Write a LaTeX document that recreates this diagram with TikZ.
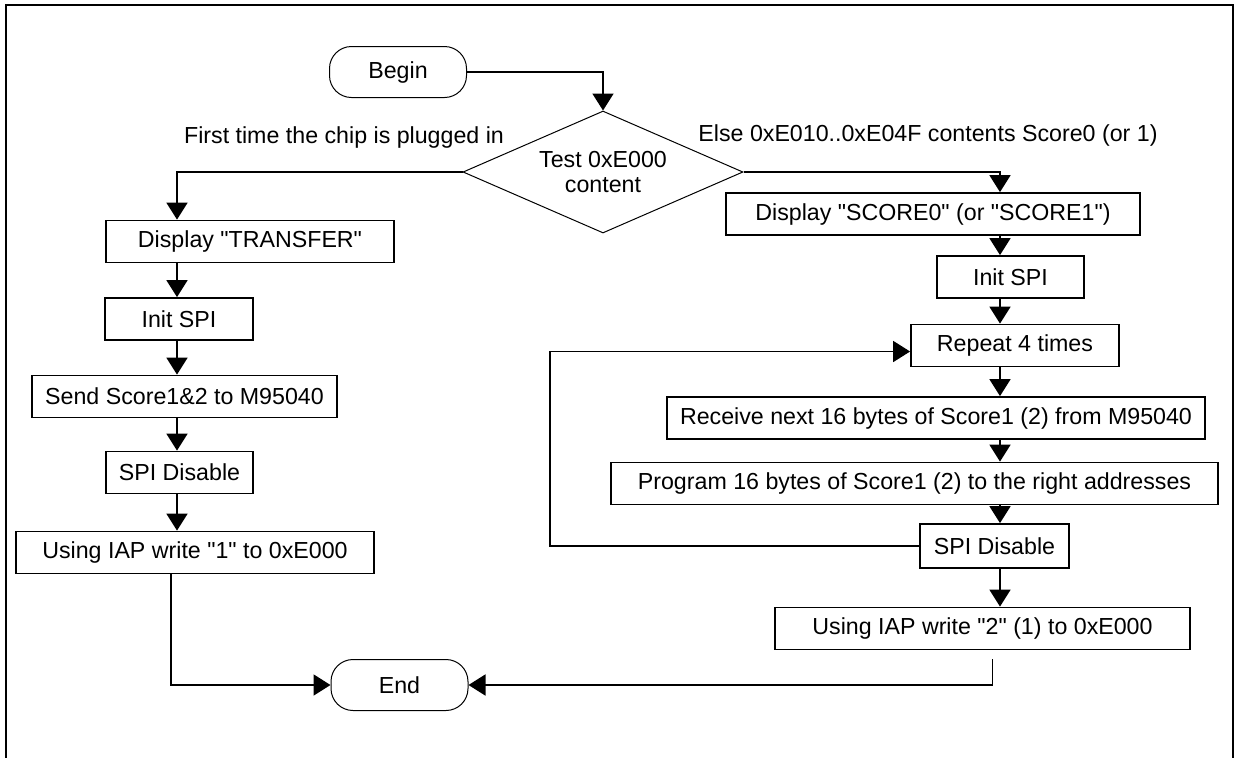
\documentclass[tikz,border=0pt]{standalone}
\usepackage{fontspec}
\setmainfont{Liberation Sans}
\usetikzlibrary{shapes.geometric,arrows.meta}

\begin{document}
\begin{tikzpicture}[
        x = .5pt, y = -.5pt,
        font = \fontsize{11.6}{12.5}\selectfont,
        box/.style = {draw, line width=.9pt, inner sep=0pt, minimum height=21pt},
        term/.style = {draw, line width=.5pt, rounded corners=11pt, inner sep=0pt,
            minimum width=68.5pt, minimum height=25.5pt},
        test/.style = {draw, diamond, line width=.5pt, aspect=2.3, inner sep=0pt,
            minimum width=140pt, minimum height=61pt, align=center},
        arr/.style = {line width=.9pt, -{Triangle[length=8.5pt,width=10.5pt]}}
    ]
        \useasboundingbox (0,0) rectangle (1239,757);
        \draw[line width=1.2pt] (6,765) -- (6,5) -- (1233,5) -- (1233,765);

        % start and decision
        \node[term] (begin) at (398,72) {Begin};
        \node[test] (test) at (603,172) {Test 0xE000\\content};
        \node (lblfirst) at (344,137) {First time the chip is plugged in};
        \node (lblelse) at (928,135) {Else 0xE010..0xE04F contents Score0 (or 1)};

        % left branch
        \node[box, minimum width=144pt] (tl1) at (250,241.5)
            {Display \textquotedbl TRANSFER\textquotedbl};
        \node[box, minimum width=74pt] (tl2) at (179,319) {Init SPI};
        \node[box, minimum width=152.5pt] (tl3) at (184.5,396.5) {Send Score1\&2 to M95040};
        \node[box, minimum width=73.5pt] (tl4) at (179.5,472.5) {SPI Disable};
        \node[box, minimum width=179pt] (tl5) at (195,552.5)
            {Using IAP write \textquotedbl 1\textquotedbl{} to 0xE000};

        % right branch
        \node[box, minimum width=207pt] (tr1) at (933,214)
            {Display \textquotedbl SCORE0\textquotedbl{} (or \textquotedbl SCORE1\textquotedbl)};
        \node[box, minimum width=73.5pt] (tr2) at (1010.5,277) {Init SPI};
        \node[box, minimum width=104pt] (tr3) at (1015,345.5) {Repeat 4 times};
        \node[box, minimum width=269pt] (tr4) at (936,418) {Receive next 16 bytes of Score1 (2) from M95040};
        \node[box, minimum width=303.5pt] (tr5) at (914.5,483.5) {Program 16 bytes of Score1 (2) to the right addresses};
        \node[box, minimum width=74.5pt, minimum height=22pt] (tr6) at (994.5,546) {SPI Disable};
        \node[box, minimum width=207.5pt] (tr7) at (982.5,628.5)
            {Using IAP write \textquotedbl 2\textquotedbl{} (1) to 0xE000};

        \node[term] (end) at (399.5,685) {End};

        \coordinate (lc) at (177,0);
        \coordinate (rc) at (1000,0);
        \coordinate (lp) at (550,450);

        \draw[arr] (begin.east) -| (test.north);
        \draw[arr] (test.west) -| (tl1.north -| lc);
        \draw[arr] (tl1.south -| lc) -- (tl2.north -| lc);
        \draw[arr] (tl2.south -| lc) -- (tl3.north -| lc);
        \draw[arr] (tl3.south -| lc) -- (tl4.north -| lc);
        \draw[arr] (tl4.south -| lc) -- (tl5.north -| lc);
        \draw[arr] ([xshift=-12pt]tl5.south) |- (end.west);

        \draw[arr] (test.east) -| (tr1.north -| rc);
        \draw[arr] (tr1.south -| rc) -- (tr2.north -| rc);
        \draw[arr] (tr2.south -| rc) -- (tr3.north -| rc);
        \draw[arr] (tr3.south -| rc) -- (tr4.north -| rc);
        \draw[arr] (tr4.south -| rc) -- (tr5.north -| rc);
        \draw[arr] (tr5.south -| rc) -- (tr6.north -| rc);
        \draw[arr] (tr6.south -| rc) -- (tr7.north -| rc);
        \draw[arr] (tr6.west) -| (lp) |- ([yshift=-3pt]tr3.west);
        \draw[arr] ([xshift=5pt,yshift=-4.5pt]tr7.south) |- (end.east);
    \end{tikzpicture}
\end{document}
